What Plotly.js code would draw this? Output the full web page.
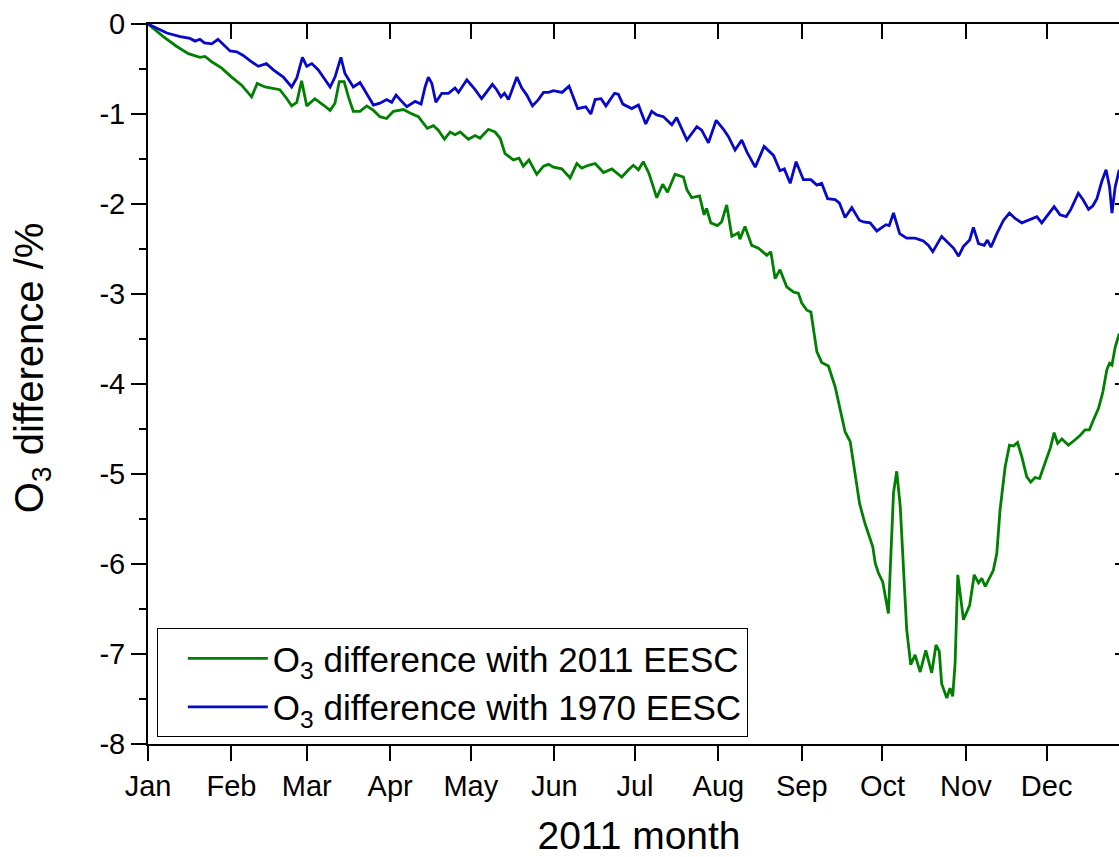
<!DOCTYPE html>
<html>
<head>
<meta charset="utf-8">
<script src="https://cdn.plot.ly/plotly-3.0.1.min.js"></script>
<style>
html,body{margin:0;padding:0;overflow:hidden;background:#fff;}
#chart{width:1134px;height:857px;}
</style>
</head>
<body>
<div id="chart"></div>
<script>
// Day of year 2011 (0 = 1 Jan)
const dayBlue = [0,7,12,15.6,17.5,19.3,21,23.7,26,28.6,30.5,33,35.4,38,41,44,46.6,50.3,53.4,55.3,57.4,59,60.9,63.3,65.8,67.7,69.5,71.7,73.2,76.3,78.8,81.3,83.8,86.2,88.7,90.6,92.2,93.7,96.2,99.3,101.5,103,104.2,105.5,107,109.2,111.7,114.1,115.4,118.5,121.6,124,125.9,128,129.6,131.2,132.5,134,137.1,138.9,140.8,142.9,145.1,147,148.9,150.7,153.9,156.5,159.7,162.7,164.6,166.2,168.4,170.2,173.4,174.8,176.5,179.8,182.3,185,187.2,189.1,191.6,194.7,196.5,200.3,204,205.8,208.3,211.2,213.9,215.7,218.2,220.7,222.6,225.7,229,232.5,234.9,236.5,238.7,240.9,243.6,246.4,248.6,250.4,252.6,255.4,257,259.1,261.6,264.4,266,268.4,270.9,274.3,275.5,277.1,279.4,282,285.1,288.2,290.1,291.7,295,297.5,299.4,301.3,303.1,305.4,306.8,308.7,310.8,312,313.3,315.5,318,320.2,322.3,324.8,327.3,330.4,332.2,334.1,336.8,339,341.3,343,345.8,347.5,349.6,351.2,352.7,354.5,356.1,357.4,358.3,359.5,360.4,361];
const diff1970 = [0,-0.10,-0.14,-0.16,-0.19,-0.17,-0.21,-0.22,-0.17,-0.25,-0.30,-0.31,-0.35,-0.41,-0.47,-0.44,-0.51,-0.59,-0.70,-0.60,-0.37,-0.47,-0.44,-0.51,-0.62,-0.70,-0.59,-0.37,-0.55,-0.70,-0.65,-0.77,-0.90,-0.88,-0.84,-0.87,-0.79,-0.84,-0.92,-0.86,-0.89,-0.70,-0.59,-0.66,-0.87,-0.77,-0.77,-0.71,-0.76,-0.62,-0.73,-0.83,-0.75,-0.67,-0.73,-0.81,-0.77,-0.84,-0.59,-0.71,-0.79,-0.91,-0.84,-0.76,-0.76,-0.74,-0.76,-0.69,-0.94,-0.92,-1.00,-0.84,-0.83,-0.91,-0.77,-0.78,-0.89,-0.94,-0.90,-1.11,-0.97,-1.01,-1.03,-1.12,-1.04,-1.29,-1.14,-1.18,-1.32,-1.07,-1.17,-1.25,-1.40,-1.29,-1.42,-1.59,-1.36,-1.46,-1.63,-1.61,-1.77,-1.53,-1.73,-1.73,-1.79,-1.77,-1.94,-1.95,-1.99,-2.15,-2.04,-2.18,-2.20,-2.21,-2.30,-2.23,-2.24,-2.10,-2.33,-2.38,-2.38,-2.41,-2.46,-2.53,-2.36,-2.44,-2.49,-2.58,-2.47,-2.40,-2.26,-2.44,-2.46,-2.40,-2.48,-2.33,-2.18,-2.10,-2.16,-2.21,-2.18,-2.14,-2.21,-2.14,-2.03,-2.12,-2.14,-2.06,-1.88,-1.95,-2.06,-2.02,-1.94,-1.75,-1.62,-1.81,-2.10,-1.81,-1.70,-1.62];

const dayGreen = [0,5.7,10.7,15,19.3,21.2,23.7,27.4,31.1,34.8,38.5,40.6,43.5,46,49,51.6,53.4,55.3,57.1,59,62,65.2,67.7,69.5,71.1,72.9,74.5,76.3,78.8,81.3,83.8,86.2,88.7,91.2,94.9,97.4,100.5,103.8,106.1,107.9,110.2,112.3,114.1,116,119.1,121.6,123.4,124.6,126.5,129,130.9,132.7,135.8,137.9,139.5,141.6,144.5,147,148.9,150.7,153.8,156.9,159.4,161.2,163.7,166.2,169.3,172.4,176.1,178.6,180.4,182.3,184.1,186.2,189.1,191.3,193.1,195.9,199,200.3,202.1,205,206.7,207.6,209.2,211.6,213.2,215.1,217,219.4,220,221.9,224.4,226.9,230,231.5,233.1,234.9,237.4,240,241.7,243,244.9,246.4,247.3,248.6,250.4,252.9,255.4,259.1,261,262.8,264.5,266.5,268.4,269.4,270.3,271.5,273.1,275.2,277.1,278.3,279.6,280.8,282,283.5,285.1,287,289.1,291.3,292.9,294.1,295,296.9,298.1,299.1,300,301,301.9,303.1,305.4,307.1,308.7,309.9,311.2,314.2,315.5,316.7,318.6,320.2,321.7,323.2,324.8,326.6,328.1,329.7,331.4,333.5,335.4,336.8,338.1,339.7,342.1,344.6,346.5,348.3,349.9,351.4,353.3,354.9,356.4,357.4,358.3,359.5,361];
const diff2011 = [0,-0.14,-0.25,-0.33,-0.37,-0.36,-0.42,-0.49,-0.59,-0.68,-0.81,-0.66,-0.70,-0.71,-0.73,-0.83,-0.91,-0.87,-0.63,-0.91,-0.83,-0.90,-0.96,-0.88,-0.64,-0.64,-0.81,-0.97,-0.97,-0.91,-0.96,-1.03,-1.05,-0.97,-0.95,-0.99,-1.03,-1.16,-1.13,-1.18,-1.28,-1.20,-1.23,-1.20,-1.28,-1.24,-1.27,-1.23,-1.17,-1.20,-1.27,-1.44,-1.51,-1.49,-1.58,-1.51,-1.67,-1.58,-1.56,-1.59,-1.61,-1.71,-1.55,-1.60,-1.57,-1.55,-1.65,-1.61,-1.70,-1.62,-1.57,-1.62,-1.53,-1.66,-1.93,-1.78,-1.87,-1.67,-1.70,-1.84,-1.93,-1.91,-2.12,-2.05,-2.21,-2.24,-2.20,-2.01,-2.36,-2.32,-2.39,-2.25,-2.46,-2.49,-2.57,-2.53,-2.83,-2.73,-2.92,-2.98,-2.99,-3.10,-3.18,-3.20,-3.36,-3.64,-3.76,-3.80,-4.03,-4.53,-4.64,-4.99,-5.33,-5.55,-5.73,-5.81,-5.99,-6.10,-6.20,-6.55,-5.21,-4.97,-5.36,-5.99,-6.73,-7.12,-7.01,-7.20,-6.96,-7.21,-6.90,-6.97,-7.33,-7.49,-7.38,-7.47,-7.10,-6.12,-6.36,-6.62,-6.46,-6.12,-6.21,-6.16,-6.25,-6.07,-5.88,-5.40,-4.92,-4.68,-4.69,-4.65,-4.81,-5.03,-5.09,-5.04,-5.05,-4.86,-4.71,-4.54,-4.66,-4.61,-4.68,-4.62,-4.57,-4.51,-4.51,-4.40,-4.27,-4.09,-3.84,-3.77,-3.79,-3.59,-3.44];

const monthStarts = [0,31,59,90,120,151,181,212,243,273,304,334];
const monthLabels = ['Jan','Feb','Mar','Apr','May','Jun','Jul','Aug','Sep','Oct','Nov','Dec'];
const yTickVals = [0,-1,-2,-3,-4,-5,-6,-7,-8];
const yTickText = ['0','-1','-2','-3','-4','-5','-6','-7','-8'];
const yMinorVals = [-0.5,-1.5,-2.5,-3.5,-4.5,-5.5,-6.5,-7.5];
const yTitle = 'O<sub>3</sub> difference /%';
const xTitle = '2011 month';

const FONT = 'Liberation Sans, Arial, sans-serif';

const traces = [
  {x: dayGreen, y: diff2011, type: 'scatter', mode: 'lines', xaxis: 'x', yaxis: 'y',
   name: 'O<sub>3</sub> difference with 2011 EESC',
   line: {color: 'rgb(0,128,0)', width: 2.8}},
  {x: dayBlue, y: diff1970, type: 'scatter', mode: 'lines', xaxis: 'x2', yaxis: 'y2',
   name: 'O<sub>3</sub> difference with 1970 EESC',
   line: {color: 'rgb(8,8,200)', width: 2.8}}
];

const axisCommon = {showgrid: false, zeroline: false, showline: true, linecolor: 'black', linewidth: 2,
  tickcolor: 'black', tickwidth: 2, ticklen: 15, fixedrange: true};

const layout = {
  width: 1134, height: 857,
  margin: {l: 148, r: 4, t: 24, b: 113},
  paper_bgcolor: 'white', plot_bgcolor: 'white',
  font: {family: FONT, color: 'black', size: 29},
  showlegend: true,
  legend: {x: 0.009, y: 0.161, xanchor: 'left', yanchor: 'top',
    bgcolor: 'white', bordercolor: 'black', borderwidth: 1, indentation: 25,
    font: {family: FONT, size: 35, color: 'black'}, itemwidth: 80, tracegroupgap: 0},
  xaxis: Object.assign({}, axisCommon, {
    range: [0, 365], tickmode: 'array', tickvals: monthStarts, ticktext: monthLabels,
    ticks: 'outside', tickfont: {family: FONT, size: 29},
    title: {text: xTitle, font: {family: FONT, size: 39}, standoff: 28}
  }),
  yaxis: Object.assign({}, axisCommon, {
    range: [-8, 0], tickmode: 'array', tickvals: yTickVals, ticktext: yTickText,
    ticks: 'outside', tickfont: {family: FONT, size: 29}, ticklabelstandoff: 0,
    minor: {tickmode: 'array', tickvals: yMinorVals, ticks: 'outside', ticklen: 7, tickwidth: 2, tickcolor: 'black'}
  }),
  xaxis2: Object.assign({}, axisCommon, {
    overlaying: 'x', side: 'top', anchor: 'y2', range: [0, 365], tickmode: 'array', tickvals: monthStarts,
    ticks: 'inside', showticklabels: false
  }),
  yaxis2: Object.assign({}, axisCommon, {
    overlaying: 'y', side: 'right', anchor: 'x2', range: [-8, 0], tickmode: 'array', tickvals: yTickVals,
    ticks: 'inside', showticklabels: false,
    minor: {tickmode: 'array', tickvals: yMinorVals, ticks: 'inside', ticklen: 7, tickwidth: 2, tickcolor: 'black'}
  }),
  annotations: [{
    text: yTitle, textangle: -90, showarrow: false,
    xref: 'paper', yref: 'paper', x: -0.1456, y: 0.522, xanchor: 'left', yanchor: 'middle',
    font: {family: FONT, size: 40, color: 'black'}
  }]
};

Plotly.newPlot('chart', traces, layout, {displayModeBar: false, staticPlot: true});
</script>
</body>
</html>
